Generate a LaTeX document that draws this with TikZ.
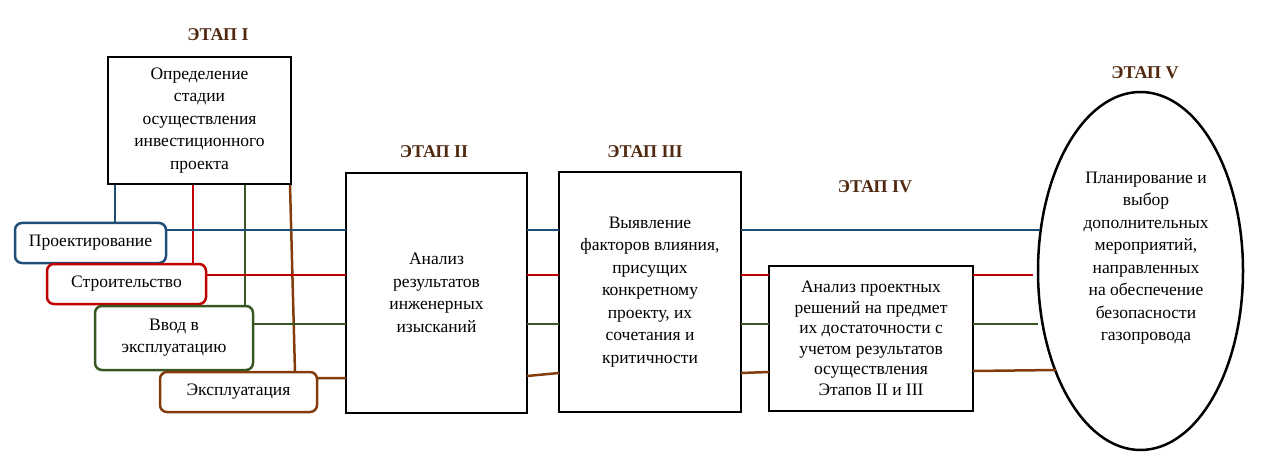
\documentclass[tikz,border=0pt]{standalone}
\usepackage{fontspec}
\setmainfont{Liberation Serif}
\begin{document}
\begin{tikzpicture}[x=1pt,y=-1pt,
  ln/.style={line width=2.5pt},
  bx/.style={draw=black,line width=2.5pt,align=center,inner sep=0pt,font=\fontsize{17.5}{22.5}\selectfont},
  rb/.style={draw,line width=2.5pt,rounded corners=7pt,align=center,font=\fontsize{17.5}{22}\selectfont},
  ttl/.style={font=\fontsize{18}{20}\selectfont\bfseries,text=cT}]
\definecolor{cB}{RGB}{31,78,121}\definecolor{cR}{RGB}{192,0,0}
\definecolor{cG}{RGB}{56,87,35}\definecolor{cO}{RGB}{132,60,12}
\definecolor{cT}{RGB}{80,40,15}
\useasboundingbox (0,0) rectangle (1285,465);
\node[ttl] (t1) at (218,35) {ЭТАП I};
\node[ttl] (t2) at (434,152) {ЭТАП II};
\node[ttl] (t3) at (645,152) {ЭТАП III};
\node[ttl] (t4) at (875,187) {ЭТАП IV};
\node[ttl] (t5) at (1145,73) {ЭТАП V};
\node[bx,minimum width=183pt,minimum height=127pt] (b1) at (199.5,120.5) {Определение\\стадии\\осуществления\\инвестиционного\\проекта};
\node[bx,minimum width=181pt,minimum height=240pt] (b2) at (436.5,293) {Анализ\\результатов\\инженерных\\изысканий};
\node[bx,minimum width=182pt,minimum height=240pt] (b3) at (650,292) {Выявление\\факторов влияния,\\присущих\\конкретному\\проекту, их\\сочетания и\\критичности};
\node[bx,minimum width=204pt,minimum height=145pt,font=\fontsize{17.5}{20.5}\selectfont] (b4) at (871,338.5) {Анализ проектных\\решений на предмет\\их достаточности с\\учетом результатов\\осуществления\\Этапов II и III};
\draw[line width=2.5pt] (1140.5,271) ellipse (102.5 and 179);
\node[align=center,font=\fontsize{17.5}{22.5}\selectfont] (b5) at (1146,258) {Планирование и\\выбор\\дополнительных\\мероприятий,\\направленных\\на обеспечение\\безопасности\\газопровода};
\node[rb,draw=cB,minimum width=151pt,minimum height=40pt] (p1) at (90.5,243) {Проектирование};
\node[rb,draw=cR,minimum width=159pt,minimum height=40pt] (p2) at (126.5,284) {Строительство};
\node[rb,draw=cG,minimum width=158pt,minimum height=64pt] (p3) at (174,338) {Ввод в\\эксплуатацию};
\node[rb,draw=cO,minimum width=157pt,minimum height=40pt] (p4) at (238.5,392) {Эксплуатация};
% verticals
\draw[ln,cB] (115,185) -- (115,223);
\draw[ln,cR] (193,185) -- (193,264);
\draw[ln,cG] (245,185) -- (245,306);
\draw[ln,cO] (290,185) -- (295,372);
% horizontals
\draw[ln,cB] (166,230) -- (346,230) (527,230) -- (559,230) (741,230) -- (1040,230);
\draw[ln,cR] (206,275) -- (346,275) (527,275) -- (559,275) (741,275) -- (769,275) (973,275) -- (1033,275);
\draw[ln,cG] (253,324) -- (346,324) (527,324) -- (559,324) (741,324) -- (769,324) (973,324) -- (1038,324);
\draw[ln,cO] (317,378) -- (346,378) (527,376) -- (559,373) (741,373) -- (769,372) (973,371) -- (1056,370);
\end{tikzpicture}
\end{document}
